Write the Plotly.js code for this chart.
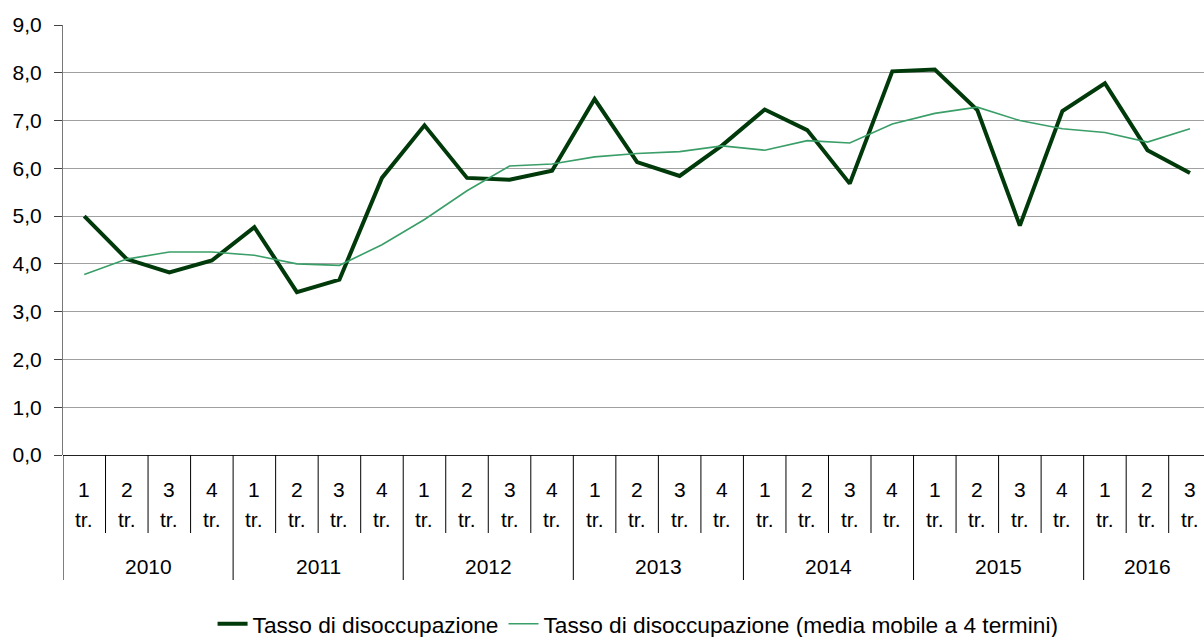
<!DOCTYPE html>
<html>
<head>
<meta charset="utf-8">
<script src="https://cdn.plot.ly/plotly-3.0.1.min.js"></script>
<style>html,body{margin:0;padding:0;background:#fff;overflow:hidden;}</style>
</head>
<body>
<div id="chart" style="width:1204px;height:637px;"></div>
<script>
const years = ["2010","2011","2012","2013","2014","2015","2016"];
const quarterNums = ["1","2","3","4","1","2","3","4","1","2","3","4","1","2","3","4","1","2","3","4","1","2","3","4","1","2","3"];
const quarterSuffix = "tr.";
const tasso = [5.00,4.10,3.82,4.07, 4.77,3.41,3.67,5.80, 6.90,5.80,5.76,5.95, 7.45,6.13,5.84,6.48, 7.23,6.80,5.68,8.03, 8.07,7.22,4.80,7.20, 7.78,6.38,5.90];
const media = [3.78,4.10,4.25,4.25, 4.18,4.00,3.97,4.40, 4.93,5.53,6.05,6.09, 6.24,6.31,6.35,6.47, 6.38,6.58,6.53,6.93, 7.15,7.28,7.00,6.83, 6.75,6.55,6.83];
const names = ["Tasso di disoccupazione","Tasso di disoccupazione (media mobile a 4 termini)"];

const xs = quarterNums.map((_, i) => i);
const FONT = "Liberation Sans, Arial, sans-serif";
const FS = 21;

const traces = [
  {x: xs, y: tasso, name: names[0], type: "scatter", mode: "lines",
   line: {color: "#003a0a", width: 4}, cliponaxis: false},
  {x: xs, y: media, name: names[1], type: "scatter", mode: "lines",
   line: {color: "#3a9e68", width: 1.6}, cliponaxis: false}
];

const annotations = [];
const shapes = [];
const qLow = (455-533)/430, yLow = (455-580)/430;
quarterNums.forEach((q, i) => {
  annotations.push({x: i, y: (455-489)/430, xref: "x", yref: "paper", text: q, showarrow: false,
    font: {family: FONT, size: FS, color: "#000"}, xanchor: "center", yanchor: "middle"});
  annotations.push({x: i, y: (455-519)/430, xref: "x", yref: "paper", text: quarterSuffix, showarrow: false,
    font: {family: FONT, size: FS, color: "#000"}, xanchor: "center", yanchor: "middle"});
  const b = i - 0.5;
  const isYear = (i % 4 === 0);
  shapes.push({type: "line", xref: "x", yref: "paper", x0: b, x1: b, y0: 0, y1: isYear ? yLow : qLow,
    line: {color: "#000", width: 1}});
});
years.forEach((yr, k) => {
  const idx = xs.filter(i => Math.floor(i / 4) === k);
  const mid = (idx[0] + idx[idx.length - 1]) / 2;
  annotations.push({x: mid, y: (455-566)/430, xref: "x", yref: "paper", text: yr, showarrow: false,
    font: {family: FONT, size: FS, color: "#000"}, xanchor: "center", yanchor: "middle"});
});

const layout = {
  width: 1204, height: 637,
  margin: {l: 63, r: 0, t: 25, b: 182, pad: 0, autoexpand: false},
  paper_bgcolor: "#fff", plot_bgcolor: "#fff",
  separators: ",.",
  showlegend: true,
  font: {family: FONT, size: FS, color: "#000"},
  xaxis: {range: [-0.5, 26.33], showgrid: false, zeroline: false, showticklabels: false,
    showline: false, ticks: "", fixedrange: true, automargin: false},
  yaxis: {range: [0, 9], dtick: 1, tick0: 0, tickformat: ".1f", showgrid: true, gridcolor: "#a0a0a0",
    gridwidth: 1, zeroline: true, zerolinecolor: "#222", zerolinewidth: 1,
    showline: true, linecolor: "#777", linewidth: 1, ticks: "outside", ticklen: 8, tickcolor: "#444",
    ticklabelstandoff: 8, automargin: false,
    tickfont: {family: FONT, size: FS, color: "#000"}, fixedrange: true},
  legend: {orientation: "h", x: 0.504, xanchor: "center", y: (455-624)/430, yanchor: "middle",
    font: {family: FONT, size: 22.7, color: "#000"}, bgcolor: "rgba(0,0,0,0)", itemwidth: 30, tracegroupgap: 0},
  annotations: annotations,
  shapes: shapes
};

Plotly.newPlot("chart", traces, layout, {displayModeBar: false, staticPlot: true});
</script>
</body>
</html>
